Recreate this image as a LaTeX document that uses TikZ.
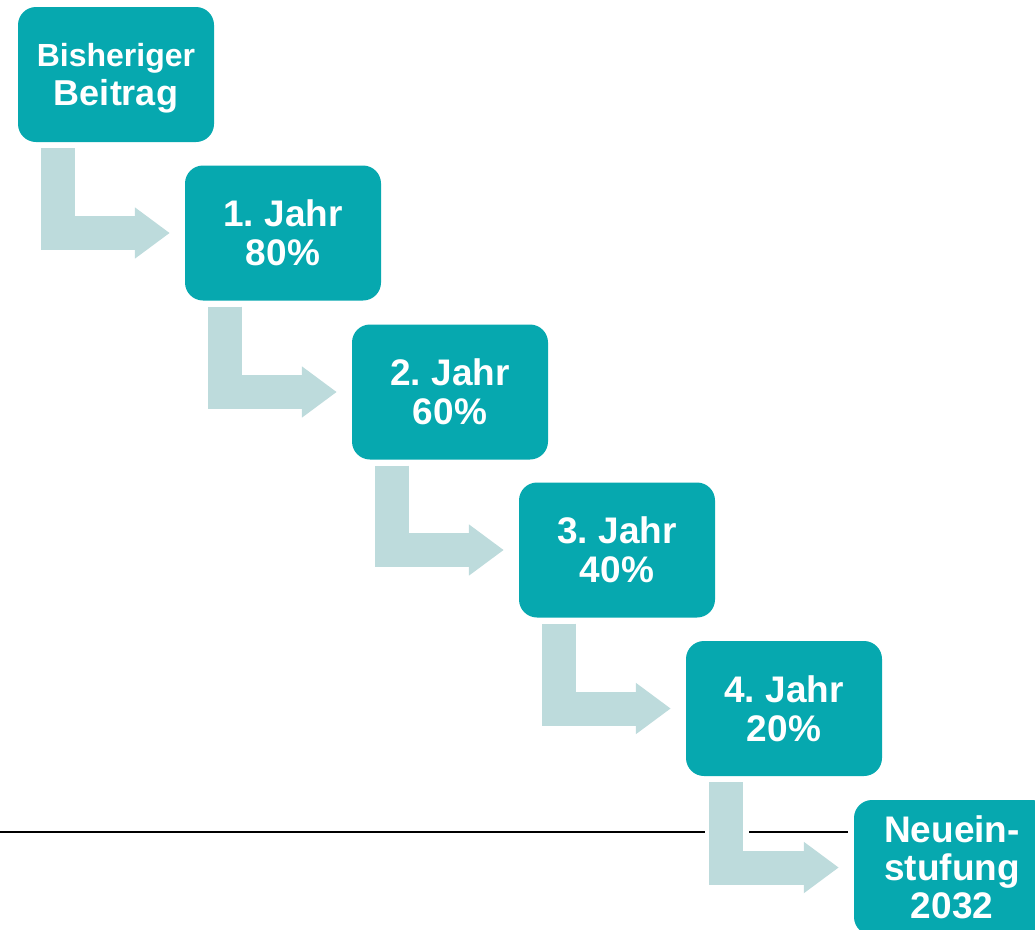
\documentclass[tikz,border=0pt]{standalone}
\usepackage{fontspec}
\setmainfont{Liberation Sans}
\frenchspacing
\usetikzlibrary{calc,arrows.meta}
\definecolor{boxteal}{HTML}{06A8AF}
\definecolor{flowgrey}{HTML}{BDDBDC}
\tikzset{stage/.style={fill=boxteal, rounded corners=18pt, minimum width=196pt, minimum height=135pt, inner sep=0pt, text=white, align=center, font=\fontsize{37}{39}\selectfont\bfseries},
  flow/.style={draw=flowgrey, line width=34pt, -{Triangle[length=35pt,width=49pt]}},
  rule/.style={black, line width=2pt}}

\begin{document}
\begin{tikzpicture}[x=1pt,y=-1pt]
  \useasboundingbox (0,0) rectangle (1035,929);
  \clip (0,0) rectangle (1035,929);
  % stages
  \node[stage, text depth=0pt, font=\fontsize{36}{38.5}\selectfont\bfseries] (s0) at (116, 74.5) {{\fontsize{32}{38.5}\selectfont Bisheriger}\\Beitrag};
  \node[stage] (s1) at (283,233.0) {1. Jahr\\80\%};
  \node[stage] (s2) at (450,392.0) {2. Jahr\\60\%};
  \node[stage] (s3) at (617,550.0) {3. Jahr\\40\%};
  \node[stage] (s4) at (784,708.5) {4. Jahr\\20\%};
  \node[stage, font=\fontsize{37}{38}\selectfont\bfseries] (s5) at (952,867.5) {Neuein-\\stufung\\2032};
  % separator line
  \coordinate (r0) at (0,832);
  \coordinate (r1) at (705,832);
  \coordinate (r2) at (749,832);
  \coordinate (r3) at (848,832);
  \draw[rule] (r0) -- (r1) (r2) -- (r3);
  % elbow arrows
  \foreach \a/\b in {s0/s1,s1/s2,s2/s3,s3/s4,s4/s5}
    \draw[flow] ($(\a.south west)+(40,6)$) |- ($(\b.west)+(-15,0)$);
\end{tikzpicture}
\end{document}
